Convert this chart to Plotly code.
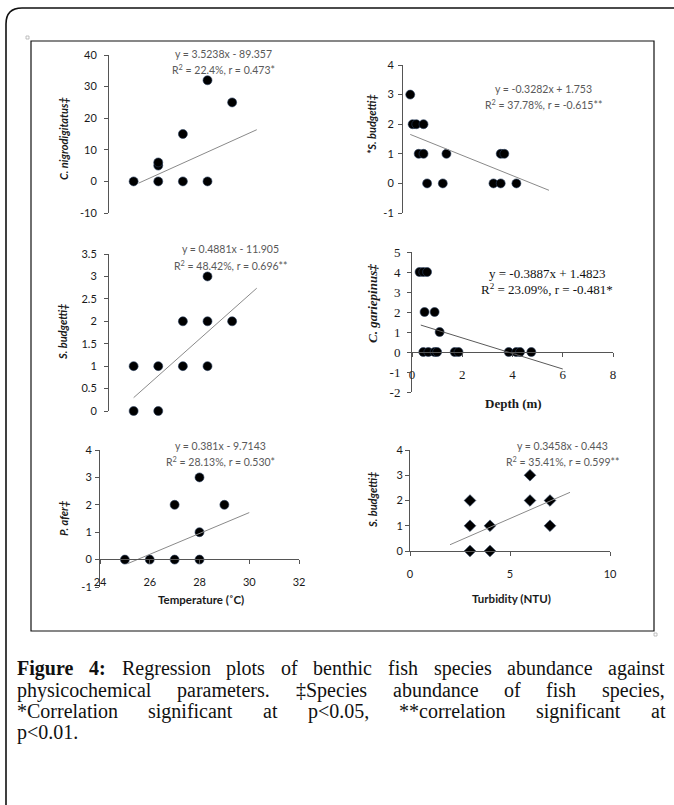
import plotly.graph_objects as go

W, H = 674, 805
def X(px): return px / W
def Y(py): return 1 - py / H

# ---------------- data ----------------
# Panel 1: C. nigrodigitatus vs temperature
temp_p1 = [25, 26, 26, 26, 27, 27, 28, 28, 29]
cnig_p1 = [0, 0, 5, 6, 15, 0, 32, 0, 25]
# Panel 2: *S. budgetti vs depth
depth_p2 = [0.3, 0.4, 0.55, 0.85, 0.65, 0.85, 1.0, 1.65, 1.8, 3.75, 4.05, 4.7, 4.05, 4.2]
sbud_p2 = [3, 2, 2, 2, 1, 1, 0, 0, 1, 0, 0, 0, 1, 1]
# Panel 3: S. budgetti vs temperature
temp_p3 = [25, 25, 26, 26, 27, 27, 28, 28, 28, 29]
sbud_p3 = [1, 0, 1, 0, 2, 1, 3, 2, 1, 2]
# Panel 4: C. gariepinus vs depth
depth_p4 = [0.3, 0.45, 0.6, 0.5, 0.9, 1.1, 0.45, 0.65, 0.9, 1.0, 1.7, 1.85, 3.85, 4.15, 4.3, 4.75]
cgar_p4 = [4, 4, 4, 2, 2, 1, 0, 0, 0, 0, 0, 0, 0, 0, 0, 0]
# Panel 5: P. afer vs temperature
temp_p5 = [25, 26, 27, 27, 28, 28, 28, 29]
pafer_p5 = [0, 0, 2, 0, 3, 1, 0, 2]
# Panel 6: S. budgetti vs turbidity
turb_p6 = [3, 3, 3, 4, 4, 6, 6, 7, 7]
sbud_p6 = [2, 1, 0, 1, 0, 3, 2, 2, 1]

# regression lines (slope, intercept, x-span of drawn trendline)
slopes = [3.5238, -0.3282, 0.4881, -0.3887, 0.381, 0.3458]
intercepts = [-89.357, 1.753, -11.905, 1.4823, -9.7143, -0.443]
trend_x = [[25.2, 30], [0.3, 6.05], [25.0, 30], [0.35, 6.0], [25.1, 30], [2, 8]]

eq_lines = [
    ["y = 3.5238x - 89.357", "R<sup>2</sup> = 22.4%, r = 0.473*"],
    ["y = -0.3282x + 1.753", "R<sup>2</sup> = 37.78%, r = -0.615**"],
    ["y = 0.4881x - 11.905", "R<sup>2</sup> = 48.42%, r = 0.696**"],
    ["y = -0.3887x + 1.4823", "R<sup>2</sup> = 23.09%, r = -0.481*"],
    ["y = 0.381x - 9.7143", "R<sup>2</sup> = 28.13%, r = 0.530*"],
    ["y = 0.3458x - 0.443", "R<sup>2</sup> = 35.41%, r = 0.599**"],
]
y_titles = ["C. nigrodigitatus‡", "*S. budgetti‡", "S. budgetti‡",
            "C. gariepinus‡", "P. afer‡", "S. budgetti‡"]
x_titles = [None, None, None, "Depth (m)", "Temperature (˚C)", "Turbidity (NTU)"]

y_tickvals = [[-10, 0, 10, 20, 30, 40], [-1, 0, 1, 2, 3, 4],
              [0, 0.5, 1, 1.5, 2, 2.5, 3, 3.5], [-2, -1, 0, 1, 2, 3, 4, 5],
              [-1, 0, 1, 2, 3, 4], [0, 1, 2, 3, 4]]
y_ticktext = [["-10", "0", "10", "20", "30", "40"], ["-1", "0", "1", "2", "3", "4"],
              ["0", "0.5", "1", "1.5", "2", "2.5", "3", "3.5"],
              ["-2", "-1", "0", "1", "2", "3", "4", "5"],
              ["-1", "0", "1", "2", "3", "4"], ["0", "1", "2", "3", "4"]]
x_tickvals = [None, None, None, [0, 2, 4, 6, 8], [24, 26, 28, 30, 32], [0, 5, 10]]

xs = [temp_p1, depth_p2, temp_p3, depth_p4, temp_p5, turb_p6]
ys = [cnig_p1, sbud_p2, sbud_p3, cgar_p4, pafer_p5, sbud_p6]

caption_rows = [
    ["Figure", "4:", "Regression", "plots", "of", "benthic", "fish", "species",
     "abundance", "against"],
    ["physicochemical", "parameters.", "‡Species", "abundance", "of", "fish", "species,"],
    ["*Correlation", "significant", "at", "p<0.05,", "**correlation", "significant", "at"],
    ["p<0.01."],
]
caption_bold_words = {"Figure", "4:"}

# ---------------- layout geometry (pixels) ----------------
x_ranges = [[24, 32], [0, 8], [24, 32], [0, 8], [24, 32], [0, 10]]
y_ranges = [[-10, 40], [-1, 4], [0, 3.5], [-2, 5], [-1, 4], [0, 4]]
x_dom_px = [[109, 306], [403, 596], [109, 306], [412, 613], [100, 299], [410, 610]]
y_dom_px = [[55, 213], [65, 213], [254, 411], [252, 392], [450, 587], [450, 551]]
xaxis_pos_px = [None, None, None, 352, 559, None]
ylab_standoff = [5, 2, 5, 4, 1, 0]
eq_pos = [[223, 54, 69], [543, 89, 104], [230, 249, 265], [547, 273, 289], [220, 446, 461], [562, 446, 461]]
ytitle_pos = [[63, 138], [372, 124], [63, 332], [372, 304], [63, 518], [373, 500]]
xtitle_pos = [None, None, None, [513, 403], [201, 599], [511, 598]]

CAP_SIZE = 20
CAP_LEFT, CAP_RIGHT = 15, 663
cap_rows_py = [668, 690, 711, 732]
cap_justify = [True, True, True, False]

SANS = "Lato, 'Open Sans', sans-serif"
SERIF = "'Liberation Serif', 'Times New Roman', serif"
fonts = [SANS, SANS, SANS, SERIF, SANS, SANS]

# Times (Liberation Serif) advance widths, per 1000 em, for text-layout of the caption
TIMES = {' ': 250, '*': 500, ',': 250, '.': 250, ':': 278, '<': 564, '‡': 500,
         'C': 667, 'F': 556, 'R': 667, 'S': 556}
for c in '0123456789':
    TIMES[c] = 500
TIMES.update(dict(a=444, b=500, c=444, d=500, e=444, f=333, g=500, h=500, i=278, j=278,
                  k=500, l=278, m=778, n=500, o=500, p=500, q=500, r=333, s=389, t=278,
                  u=500, v=500, w=722, x=500, y=500, z=444))
TIMES_BOLD = dict(TIMES)
TIMES_BOLD.update({'F': 611, 'u': 556, 'r': 444, ':': 333})

def text_w(word, bold):
    tab = TIMES_BOLD if bold else TIMES
    return sum(tab.get(c, 500) for c in word) * CAP_SIZE / 1000.0

fig = go.Figure()
layout = dict(width=W, height=H,
              margin=dict(l=0, r=0, t=0, b=0, pad=0, autoexpand=False),
              paper_bgcolor="white", plot_bgcolor="rgba(0,0,0,0)",
              showlegend=False, annotations=[], shapes=[], hovermode=False)

for i in range(6):
    k = i + 1
    xa = "x" if k == 1 else f"x{k}"
    ya = "y" if k == 1 else f"y{k}"
    serif = fonts[i] == SERIF
    tick_font = dict(family=fonts[i], size=13 if serif else 11, color="#1a1a1a")
    fig.add_trace(go.Scatter(
        x=xs[i], y=ys[i], mode="markers", xaxis=xa, yaxis=ya, cliponaxis=False,
        marker=dict(symbol="diamond" if k == 6 else "circle", size=9,
                    color="black", line=dict(color="#2a3f5f", width=0.6))))
    tx = trend_x[i]
    ty = [slopes[i] * v + intercepts[i] for v in tx]
    fig.add_trace(go.Scatter(
        x=tx, y=ty, mode="lines", xaxis=xa, yaxis=ya, cliponaxis=False,
        line=dict(color="#5a5a5a" if serif else "#8a8a8a", width=1)))

    xd = x_dom_px[i]; yd = y_dom_px[i]
    xaxis = dict(domain=[X(xd[0]), X(xd[1])], range=x_ranges[i], showgrid=False,
                 zeroline=False, fixedrange=True, automargin=False)
    if x_tickvals[i] is None:
        xaxis.update(visible=False)
    else:
        xaxis.update(showline=True, linecolor="#555555", linewidth=1, ticks="outside",
                     ticklen=4, tickcolor="#555555", tickvals=x_tickvals[i],
                     tickfont=tick_font, ticklabelstandoff=9 if not serif else 6)
        if xaxis_pos_px[i] is not None:
            xaxis.update(anchor="free", position=Y(xaxis_pos_px[i]))
        else:
            xaxis.update(anchor=ya)
    yaxis = dict(domain=[Y(yd[1]), Y(yd[0])], range=y_ranges[i], showgrid=False,
                 zeroline=False, showline=True, linecolor="#555555", linewidth=1,
                 ticks="outside", ticklen=4, tickcolor="#555555",
                 tickvals=y_tickvals[i], ticktext=y_ticktext[i], tickfont=tick_font,
                 ticklabelstandoff=ylab_standoff[i], anchor=xa, fixedrange=True,
                 automargin=False)
    layout["xaxis" if k == 1 else f"xaxis{k}"] = xaxis
    layout["yaxis" if k == 1 else f"yaxis{k}"] = yaxis

    ex, ey1, ey2 = eq_pos[i]
    eq_font = dict(family=fonts[i], size=13 if serif else 10.5,
                   color="#111111" if serif else "#595959")
    for txt, ey in zip(eq_lines[i], [ey1, ey2]):
        layout["annotations"].append(dict(
            text=txt, x=X(ex), y=Y(ey), xref="paper", yref="paper",
            xanchor="center", yanchor="middle", showarrow=False, font=eq_font))
    tx_, ty_ = ytitle_pos[i]
    layout["annotations"].append(dict(
        text=f"<b><i>{y_titles[i]}</i></b>", x=X(tx_), y=Y(ty_), xref="paper", yref="paper",
        xanchor="center", yanchor="middle", showarrow=False, textangle=-90,
        font=dict(family=fonts[i], size=13 if serif else 11, color="#1a1a1a")))
    if xtitle_pos[i] is not None:
        px_, py_ = xtitle_pos[i]
        layout["annotations"].append(dict(
            text=f"<b>{x_titles[i]}</b>", x=X(px_), y=Y(py_), xref="paper", yref="paper",
            xanchor="center", yanchor="middle", showarrow=False,
            font=dict(family=fonts[i], size=13 if serif else 11.5, color="#1a1a1a")))

# frames
layout["shapes"].append(dict(type="rect", xref="paper", yref="paper",
                             x0=X(31), x1=X(654), y0=Y(631), y1=Y(41),
                             line=dict(color="#111111", width=1.2), layer="below"))
path = (f"M {X(6)},{Y(806)} L {X(6)},{Y(24)} Q {X(6)},{Y(8)} {X(22)},{Y(8)} "
        f"L {X(676)},{Y(8)}")
layout["shapes"].append(dict(type="path", xref="paper", yref="paper", path=path,
                             line=dict(color="#111111", width=1.6)))
# tiny anchor marks at frame corners
for (ax0, ay0) in [(26, 36), (654, 633)]:
    layout["shapes"].append(dict(type="rect", xref="paper", yref="paper",
                                 x0=X(ax0), x1=X(ax0 + 3), y0=Y(ay0 + 3), y1=Y(ay0),
                                 line=dict(color="#b0b0b0", width=0.8)))

# caption: justified rows, each word placed individually
CAP = dict(family="'Liberation Serif', 'Times New Roman', serif", size=CAP_SIZE, color="#111111")
space_w = 250 * CAP_SIZE / 1000.0
for words, py, justify in zip(caption_rows, cap_rows_py, cap_justify):
    widths = [text_w(w_, w_ in caption_bold_words) for w_ in words]
    if justify and len(words) > 1:
        gap = (CAP_RIGHT - CAP_LEFT - sum(widths)) / (len(words) - 1)
    else:
        gap = space_w
    xpos = CAP_LEFT
    for w_, wd in zip(words, widths):
        t = w_.replace("<", "&lt;")
        if w_ in caption_bold_words:
            t = f"<b>{t}</b>"
        layout["annotations"].append(dict(
            text=t, x=X(xpos), y=Y(py), xref="paper", yref="paper",
            xanchor="left", yanchor="middle", showarrow=False, font=CAP))
        xpos += wd + gap

fig.update_layout(**layout)
fig.write_html("out.html", config={"displayModeBar": False, "staticPlot": True},
               post_script="document.body.style.margin='0';document.body.style.padding='0';")
